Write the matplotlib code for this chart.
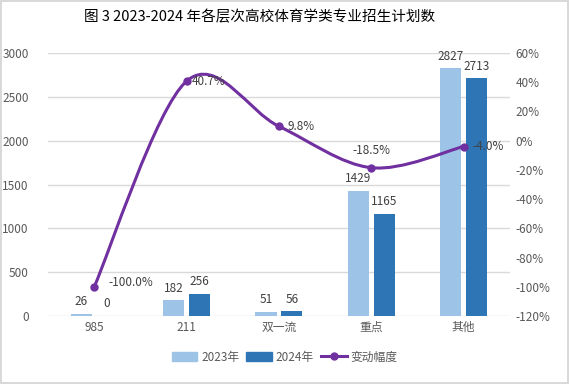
import numpy as np
import matplotlib
matplotlib.use('Agg')
import matplotlib.pyplot as plt
from matplotlib.path import Path
from matplotlib.patches import PathPatch
from matplotlib.lines import Line2D
from matplotlib.patches import Patch

plt.rcParams['font.family'] = ['Noto Sans CJK SC', 'DejaVu Sans']

categories = ['985', '211', '双一流', '重点', '其他']
plan_2023 = [26, 182, 51, 1429, 2827]
plan_2024 = [0, 256, 56, 1165, 2713]
change_pct = [-100.0, 40.7, 9.8, -18.5, -4.0]
left_ticks = [0, 500, 1000, 1500, 2000, 2500, 3000]
right_ticks = [-120, -100, -80, -60, -40, -20, 0, 20, 40, 60]

c_light = '#9DC3E6'
c_dark = '#2E75B6'
c_line = '#7030A0'
c_text = '#595959'
c_grid = '#D9D9D9'


def smooth_path(xs, ys, t=1 / 6):
    # bezier curve through points, like a spreadsheet "smoothed line"
    pts = np.column_stack([xs, ys]).astype(float)
    n = len(pts)
    verts = [pts[0]]
    codes = [Path.MOVETO]
    for i in range(n - 1):
        p0 = pts[i - 1] if i > 0 else pts[i]
        p1 = pts[i]
        p2 = pts[i + 1]
        p3 = pts[i + 2] if i + 2 < n else pts[i + 1]
        verts += [p1 + (p2 - p0) * t, p2 - (p3 - p1) * t, p2]
        codes += [Path.CURVE4] * 3
    return Path(verts, codes)


fig = plt.figure(figsize=(5.69, 3.84), dpi=100)
fig.patch.set_edgecolor('#D9D9D9')
fig.patch.set_linewidth(1.5)

ax = fig.add_axes([0.0844, 0.177, 0.8116, 0.685])
x = np.arange(len(categories))
w = 0.23
off = 0.14
b1 = ax.bar(x - off, plan_2023, w, color=c_light, zorder=2)
b2 = ax.bar(x + off, plan_2024, w, color=c_dark, zorder=2)
for bars, vals in ((b1, plan_2023), (b2, plan_2024)):
    for r, v in zip(bars, vals):
        ax.annotate(str(v), (r.get_x() + r.get_width() / 2, r.get_height()),
                    xytext=(0, 4), textcoords='offset points',
                    ha='center', va='bottom', fontsize=8.5, color='#404040')

ax.set_xlim(-0.5, len(categories) - 0.5)
ax.set_ylim(0, 3000)
ax.set_yticks(left_ticks)
ax.set_xticks(x)
ax.set_xticklabels(categories)
ax.grid(axis='y', color=c_grid, lw=1, zorder=0)
ax.tick_params(length=0, labelsize=8.5, colors=c_text)
ax.tick_params(axis='y', pad=14)
for s in ax.spines.values():
    s.set_visible(False)

ax2 = ax.twinx()
ax2.set_ylim(-120, 60)
ax2.set_yticks(right_ticks)
ax2.set_yticklabels([f'{v}%' for v in right_ticks])
ax2.tick_params(length=0, labelsize=8.5, colors=c_text, pad=4)
for s in ax2.spines.values():
    s.set_visible(False)

ax2.add_patch(PathPatch(smooth_path(x, change_pct), facecolor='none',
                        edgecolor=c_line, lw=2.2, zorder=3))
ax2.plot(x, change_pct, 'o', color=c_line, ms=5, zorder=4)

lbl_off = [(10, 3), (4, 0), (6, 0), (0, 8), (6, 0)]
lbl_ha = ['left', 'left', 'left', 'center', 'left']
for xi, v, o, ha in zip(x, change_pct, lbl_off, lbl_ha):
    ax2.annotate(f'{v:.1f}%', (xi, v), xytext=o, textcoords='offset points',
                 ha=ha, va='center' if ha == 'left' else 'bottom',
                 fontsize=8.5, color='#404040', zorder=5)

fig.text(0.457, 0.955, '图 3 2023-2024 年各层次高校体育学类专业招生计划数',
         ha='center', va='center', fontsize=10.5, color='black')

handles = [Patch(color=c_light, label='2023年'),
           Patch(color=c_dark, label='2024年'),
           Line2D([], [], color=c_line, lw=2.2, marker='o', ms=5, label='变动幅度')]
fig.legend(handles=handles, loc='center', bbox_to_anchor=(0.5, 0.07), ncol=3,
           frameon=False, fontsize=8.5, handlelength=2.2, handletextpad=0.3,
           columnspacing=0.6, labelcolor=c_text)

fig.savefig('out.png', dpi=100)
